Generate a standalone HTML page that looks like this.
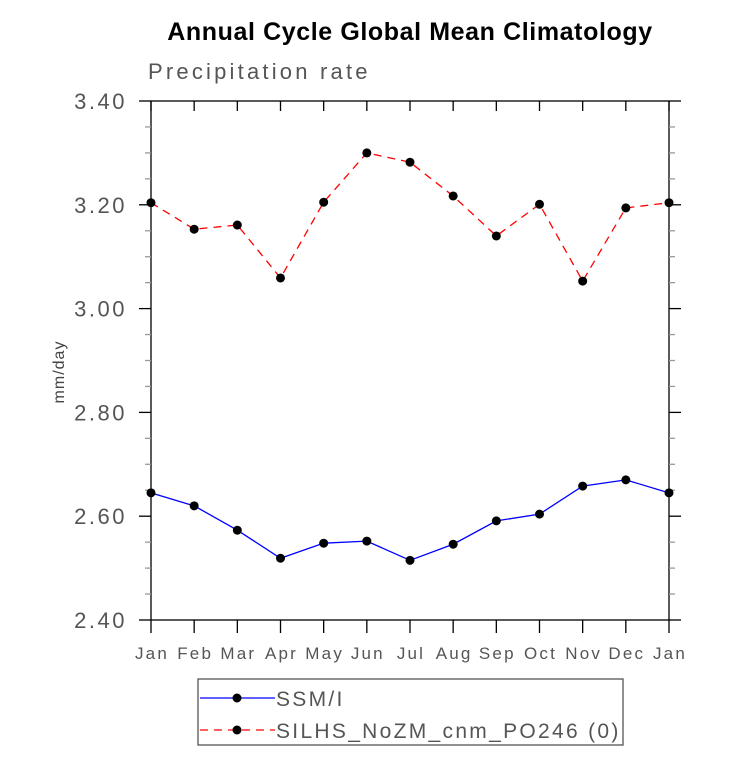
<!DOCTYPE html>
<html><head><meta charset="utf-8"><style>
body{margin:0;background:#fff;}
svg text{font-family:"Liberation Sans",sans-serif;}
</style></head><body>
<svg width="733" height="754" xmlns="http://www.w3.org/2000/svg">
<rect width="733" height="754" fill="#fff"/>
<text x="410" y="40" text-anchor="middle" font-size="25" font-weight="bold" letter-spacing="0.6">Annual Cycle Global Mean Climatology</text>
<text x="148" y="79" font-size="22" fill="#555" letter-spacing="3.2">Precipitation rate</text>
<text transform="translate(64,372) rotate(-90)" text-anchor="middle" font-size="16" fill="#444" letter-spacing="1">mm/day</text>
<g id="axes"></g>
<g id="series"></g>
<g>
<rect x="198" y="679" width="425" height="66" fill="none" stroke="#555" stroke-width="1.3"/>
<line x1="200" y1="698" x2="275" y2="698" stroke="#00f" stroke-width="1.3"/>
<circle cx="237" cy="698" r="4.5" fill="#000"/>
<text x="276" y="706" font-size="21" fill="#555" letter-spacing="2.3">SSM/I</text>
<line x1="200" y1="730" x2="275" y2="730" stroke="#f00" stroke-width="1.3" stroke-dasharray="8,6"/>
<circle cx="237" cy="730" r="4.5" fill="#000"/>
<text x="276" y="738" font-size="21" fill="#555" letter-spacing="2.3">SILHS_NoZM_cnm_PO246 (0)</text>
</g>
</svg>
<script>
const months=["Jan","Feb","Mar","Apr","May","Jun","Jul","Aug","Sep","Oct","Nov","Dec","Jan"];
const yTicks=["2.40","2.60","2.80","3.00","3.20","3.40"];
const ssmi=[2.645,2.620,2.573,2.519,2.548,2.552,2.515,2.546,2.591,2.604,2.658,2.670,2.645];
const silhs=[3.204,3.153,3.161,3.059,3.205,3.300,3.282,3.217,3.140,3.201,3.053,3.194,3.204];
const NS="http://www.w3.org/2000/svg";
const X0=151,X1=669,Y0=620,Y1=101,YMIN=2.4,YMAX=3.4;
const xs=i=>X0+(X1-X0)*i/12;
const ys=v=>Y0-(v-YMIN)/(YMAX-YMIN)*(Y0-Y1);
function mk(t,a,p){const e=document.createElementNS(NS,t);for(const k in a)e.setAttribute(k,a[k]);p.appendChild(e);return e;}
const ax=document.getElementById('axes');
const fr=mk('rect',{x:X0,y:Y1,width:X1-X0,height:Y0-Y1,fill:'none',stroke:'#000','stroke-width':1.3},ax);


for(let v=YMIN;v<=YMAX+1e-9;v+=0.05){
  const y=ys(v);const maj=Math.abs((v-YMIN)/0.2-Math.round((v-YMIN)/0.2))<1e-6;
  const L=maj?12:6;
  mk('line',{x1:X0-L,y1:y,x2:X0,y2:y,stroke:maj?'#000':'#999','stroke-width':1.3},ax);
  mk('line',{x1:X1,y1:y,x2:X1+L,y2:y,stroke:maj?'#000':'#999','stroke-width':1.3},ax);
}
yTicks.forEach(t=>{
  const tx=mk('text',{x:127,y:ys(parseFloat(t))+8,'text-anchor':'end','font-size':22,fill:'#555','letter-spacing':2.5},ax);
  tx.textContent=t;
  
  
});
months.forEach((m,i)=>{
  const x=xs(i);
  mk('line',{x1:x,y1:Y0,x2:x,y2:Y0+13,stroke:'#000','stroke-width':1.3},ax);
  mk('line',{x1:x,y1:Y1,x2:x,y2:Y1+10,stroke:'#000','stroke-width':1.3},ax);
  const tx=mk('text',{x:x+1,y:659,'text-anchor':'middle','font-size':17,fill:'#555','letter-spacing':2.2},ax);
  tx.textContent=m;
  
  
});
const sg=document.getElementById('series');
function series(vals,color,dash,name){
  const pl=mk('polyline',{points:vals.map((v,i)=>xs(i)+','+ys(v)).join(' '),fill:'none',stroke:color,'stroke-width':1.3},sg);
  if(dash)pl.setAttribute('stroke-dasharray','8,6');
  
  
  vals.forEach((v,i)=>{
    const c=mk('circle',{cx:xs(i),cy:ys(v),r:4.5,fill:'#000'},sg);
    
    
  });
}
series(ssmi,'#00f',false,'ssmi');
series(silhs,'#f00',true,'silhs');
</script>
</body></html>
